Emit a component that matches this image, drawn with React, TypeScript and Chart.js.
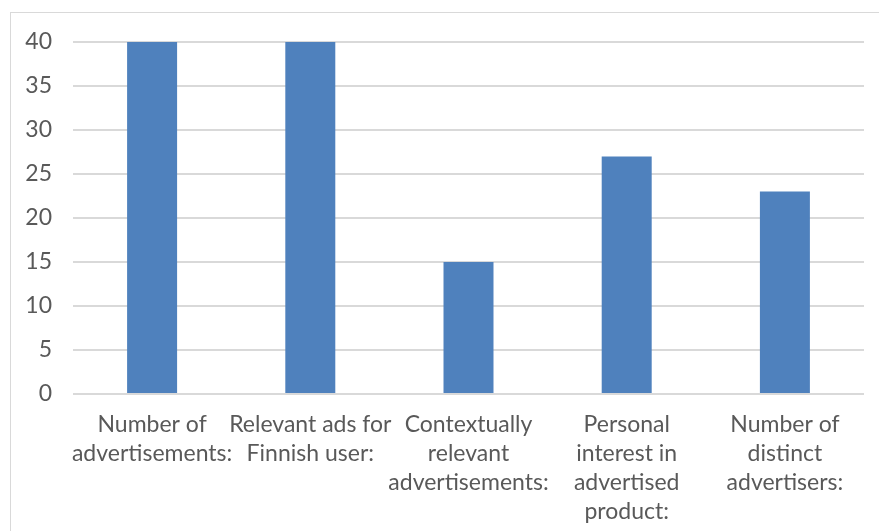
import React, { useEffect, useRef } from "react";
import { Chart, registerables } from "chart.js";

Chart.register(...registerables);

const categories: string[][] = [
  ["Number of", "advertisements:"],
  ["Relevant ads for", "Finnish user:"],
  ["Contextually", "relevant", "advertisements:"],
  ["Personal", "interest in", "advertised", "product:"],
  ["Number of", "distinct", "advertisers:"],
];
const values: number[] = [40, 40, 15, 27, 23];
const yMin = 0;
const yMax = 40;
const yStep = 5;

const FONT = "Lato, 'Open Sans', sans-serif";

export default function App() {
  const ref = useRef<HTMLCanvasElement | null>(null);
  useEffect(() => {
    if (!ref.current) return;
    const chart = new Chart(ref.current, {
      type: "bar",
      data: {
        labels: categories,
        datasets: [
          {
            data: values,
            backgroundColor: "#4f81bd",
            borderWidth: 0,
            categoryPercentage: 1,
            barPercentage: 0.316,
          },
        ],
      },
      options: {
        responsive: false,
        animation: false,
        devicePixelRatio: 1,
        layout: { padding: { left: 0, right: 15, top: 42, bottom: 0 } },
        plugins: { legend: { display: false }, tooltip: { enabled: false }, title: { display: false } },
        scales: {
          x: {
            grid: { display: false, drawTicks: false },
            border: { display: false },
            ticks: {
              color: "#595959",
              font: { family: FONT, size: 23, lineHeight: 1.26 },
              padding: 16,
              maxRotation: 0,
              autoSkip: false,
            },
            afterFit: (s: any) => {
              s.height = 137;
            },
          },
          y: {
            min: yMin,
            max: yMax,
            grid: { color: "#d9d9d9", lineWidth: 2, drawTicks: false },
            border: { display: false },
            ticks: {
              stepSize: yStep,
              color: "#595959",
              font: { family: FONT, size: 23 },
              padding: 21,
            },
            afterFit: (s: any) => {
              s.width = 73;
            },
          },
        },
      },
    });
    return () => chart.destroy();
  }, []);
  return (
    <div
      style={{
        position: "absolute",
        left: 0,
        top: 0,
        width: 879,
        height: 531,
        overflow: "hidden",
        background: "#ffffff",
      }}
    >
      <div
        style={{
          position: "absolute",
          left: 10,
          top: 12,
          width: 1000,
          height: 1000,
          borderLeft: "1px solid #d9d9d9",
          borderTop: "1px solid #d9d9d9",
        }}
      />
      <canvas ref={ref} width={879} height={531} style={{ position: "absolute", left: 0, top: 0 }} />
    </div>
  );
}
